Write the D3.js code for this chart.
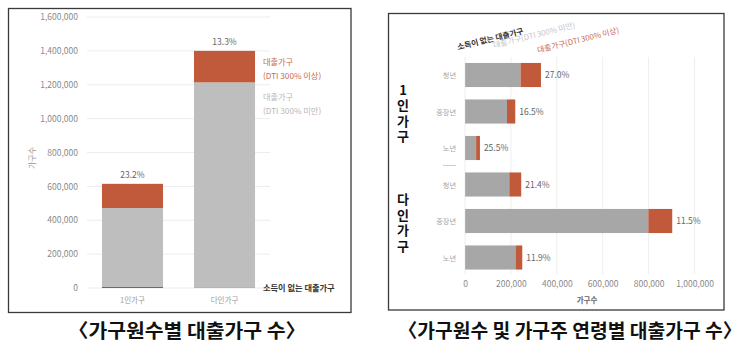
<!DOCTYPE html>
<html><head><meta charset="utf-8">
<script src="https://cdn.jsdelivr.net/npm/d3@7"></script>
<style>
html,body{margin:0;padding:0;background:#fff;}
svg{display:block;font-family:"Noto Sans CJK KR","Noto Sans",sans-serif;}
</style></head>
<body><svg id="c" width="750" height="356"></svg>
<script>
// ---------- Left chart data ----------
const leftCategories = ["1인가구", "다인가구"];
const leftNoIncome = [6000, 3000];
const leftUnder300 = [466000, 1211000];
const leftOver300 = [143000, 186000];
const leftPct = ["23.2%", "13.3%"];
const leftTicks = [0, 200000, 400000, 600000, 800000, 1000000, 1200000, 1400000, 1600000];

// ---------- Right chart data ----------
const rightGroups = ["1인가구", "다인가구"];
const rightCategories = ["1인-청년", "1인-중장년", "1인-노년", "다인-청년", "다인-중장년", "다인-노년"];
const rightLabels = ["청년", "중장년", "노년", "청년", "중장년", "노년"];
const rightNoIncome = [1000, 1000, 500, 1000, 1000, 1000];
const rightUnder300 = [241000, 182000, 48000, 192000, 798000, 219000];
const rightOver300 = [89000, 36000, 16500, 52000, 104000, 29600];
const rightPct = ["27.0%", "16.5%", "25.5%", "21.4%", "11.5%", "11.9%"];
const rightTicks = [0, 200000, 400000, 600000, 800000, 1000000];

const seriesNames = ["소득이 없는 대출가구", "대출가구(DTI 300% 미만)", "대출가구(DTI 300% 이상)"];

const ORANGE = "#c05a3b", LGRAY = "#bebebe", RGRAY = "#a7a7a7", DARK = "#6a6a6a";
const fmt = d3.format(",");
const svg = d3.select("#c");

// panel borders
svg.append("rect").attr("x", 8.5).attr("y", 8.5).attr("width", 342.5).attr("height", 304)
  .attr("fill", "none").attr("stroke", "#3a3a3a").attr("stroke-width", 1.3);
svg.append("rect").attr("x", 388.5).attr("y", 13.5).attr("width", 335.5).attr("height", 296.5)
  .attr("fill", "none").attr("stroke", "#3a3a3a").attr("stroke-width", 1.3);

// ================= LEFT =================
const ly = d3.scaleLinear().domain([0, 1600000]).range([288, 17]);
const lx = d3.scaleBand().domain(leftCategories).range([86.5, 270.5]).paddingInner(0.337).paddingOuter(0.168);
const L = svg.append("g");

L.append("g").selectAll("line").data(leftTicks).join("line")
  .attr("x1", 87).attr("x2", 270).attr("y1", d => ly(d)).attr("y2", d => ly(d))
  .attr("stroke", "#ececec").attr("stroke-width", 1);

const lAxis = L.append("g").attr("transform", "translate(78,0)")
  .call(d3.axisLeft(ly).tickValues(leftTicks).tickFormat(fmt).tickSize(0).tickPadding(0));
lAxis.select(".domain").remove();
lAxis.selectAll("text").attr("fill", "#8a8a8a").attr("font-size", 8.5).attr("font-family", "Noto Sans CJK KR");

L.append("text").attr("transform", "translate(35,158) rotate(-90)").attr("text-anchor", "middle")
  .attr("fill", "#999").attr("font-size", 8).text("가구수");

const leftStackData = leftCategories.map((c, i) => ({cat: c, a: leftNoIncome[i], b: leftUnder300[i], c2: leftOver300[i]}));
const lStack = d3.stack().keys(["a", "b", "c2"])(leftStackData);
const lColors = [DARK, LGRAY, ORANGE];
L.append("g").selectAll("g").data(lStack).join("g").attr("fill", (d, i) => lColors[i])
  .selectAll("rect").data(d => d).join("rect")
  .attr("x", d => lx(d.data.cat)).attr("width", lx.bandwidth())
  .attr("y", d => ly(d[1])).attr("height", d => ly(d[0]) - ly(d[1]));

L.append("g").selectAll("text").data(leftStackData).join("text")
  .attr("x", d => lx(d.cat) + lx.bandwidth() / 2)
  .attr("y", d => ly(d.a + d.b + d.c2) - 6)
  .attr("text-anchor", "middle").attr("fill", "#666").attr("font-size", 8.5)
  .text((d, i) => leftPct[i]);

L.append("g").selectAll("text").data(leftCategories).join("text")
  .attr("x", d => lx(d) + lx.bandwidth() / 2).attr("y", 303)
  .attr("text-anchor", "middle").attr("fill", "#9a9a9a").attr("font-size", 7.5).text(d => d);

const lleg = L.append("g").attr("font-size", 8.2);
lleg.append("text").attr("x", 263).attr("y", 64.5).attr("fill", "#c96a4f").text("대출가구");
lleg.append("text").attr("x", 263).attr("y", 78.5).attr("fill", "#c96a4f").text("(DTI 300% 이상)");
lleg.append("text").attr("x", 263).attr("y", 100).attr("fill", "#b8b8b8").text("대출가구");
lleg.append("text").attr("x", 263).attr("y", 113.5).attr("fill", "#b8b8b8").text("(DTI 300% 미만)");
lleg.append("text").attr("x", 263).attr("y", 290.5).attr("fill", "#333").attr("font-weight", 700)
  .attr("font-size", 8.2).text(seriesNames[0]);

// ================= RIGHT =================
const rx = d3.scaleLinear().domain([0, 1000000]).range([465, 694.5]);
const ry = d3.scaleBand().domain(rightCategories).range([56.75, 275.75]).paddingInner(0.34).paddingOuter(0.17);
const R = svg.append("g");

R.append("g").selectAll("line").data(rightTicks).join("line")
  .attr("x1", d => rx(d)).attr("x2", d => rx(d)).attr("y1", 57).attr("y2", 274)
  .attr("stroke", "#eeeeee").attr("stroke-width", 1);

const rAxis = R.append("g").attr("transform", "translate(0,281)")
  .call(d3.axisBottom(rx).tickValues(rightTicks).tickFormat(fmt).tickSize(0).tickPadding(0));
rAxis.select(".domain").remove();
rAxis.selectAll("text").attr("fill", "#8a8a8a").attr("font-size", 8.5).attr("font-family", "Noto Sans CJK KR");

R.append("text").attr("x", 587).attr("y", 303).attr("text-anchor", "middle")
  .attr("fill", "#666").attr("font-size", 7.5).attr("font-weight", 700).text("가구수");

const rightStackData = rightCategories.map((c, i) => ({cat: c, a: rightNoIncome[i], b: rightUnder300[i], c2: rightOver300[i]}));
const rStack = d3.stack().keys(["a", "b", "c2"])(rightStackData);
const rColors = [DARK, RGRAY, ORANGE];
R.append("g").selectAll("g").data(rStack).join("g").attr("fill", (d, i) => rColors[i])
  .selectAll("rect").data(d => d).join("rect")
  .attr("y", d => ry(d.data.cat)).attr("height", ry.bandwidth())
  .attr("x", d => rx(d[0])).attr("width", d => rx(d[1]) - rx(d[0]));

R.append("g").selectAll("text").data(rightStackData).join("text")
  .attr("x", d => rx(d.a + d.b + d.c2) + 4)
  .attr("y", d => ry(d.cat) + ry.bandwidth() / 2 + 3)
  .attr("fill", "#666").attr("font-size", 8.5)
  .text((d, i) => rightPct[i]);

R.append("g").selectAll("text").data(rightCategories).join("text")
  .attr("x", 456).attr("y", d => ry(d) + ry.bandwidth() / 2 + 3)
  .attr("text-anchor", "end").attr("fill", "#a5a5a5").attr("font-size", 7.2)
  .text((d, i) => rightLabels[i]);

R.append("line").attr("x1", 443).attr("x2", 456).attr("y1", 165.5).attr("y2", 165.5)
  .attr("stroke", "#cfcfcf").attr("stroke-width", 1);

// vertical group labels (single vertical text each)
const groupCenters = [
  (ry(rightCategories[0]) + ry(rightCategories[2]) + ry.bandwidth()) / 2,
  (ry(rightCategories[3]) + ry(rightCategories[5]) + ry.bandwidth()) / 2
];
R.append("g").selectAll("text").data(rightGroups).join("text")
  .attr("x", 403).attr("y", (d, i) => groupCenters[i] + 3)
  .attr("text-anchor", "middle")
  .style("writing-mode", "vertical-rl").style("text-orientation", "upright")
  .style("letter-spacing", "2.5px")
  .attr("font-size", 13).attr("font-weight", 700).attr("fill", "#111")
  .text(d => d);

// rotated legend
const legPos = [[458, 50, "#333", 700], [494, 48, "#c4c4c4", 400], [538, 53, "#c96a4f", 400]];
R.append("g").selectAll("text").data(seriesNames).join("text")
  .attr("transform", (d, i) => `translate(${legPos[i][0]},${legPos[i][1]}) rotate(-14)`)
  .attr("fill", (d, i) => legPos[i][2]).attr("font-weight", (d, i) => legPos[i][3])
  .attr("font-size", 7.8).text(d => d);

// captions
svg.append("text").attr("x", 187).attr("y", 338).attr("text-anchor", "middle")
  .attr("font-size", 19).attr("font-weight", 700).attr("fill", "#111")
  .attr("textLength", 238).attr("lengthAdjust", "spacingAndGlyphs")
  .text("〈가구원수별 대출가구 수〉");
svg.append("text").attr("x", 570).attr("y", 338).attr("text-anchor", "middle")
  .attr("font-size", 19).attr("font-weight", 700).attr("fill", "#111")
  .attr("textLength", 344).attr("lengthAdjust", "spacingAndGlyphs")
  .text("〈가구원수 및 가구주 연령별 대출가구 수〉");
</script>
</body></html>
